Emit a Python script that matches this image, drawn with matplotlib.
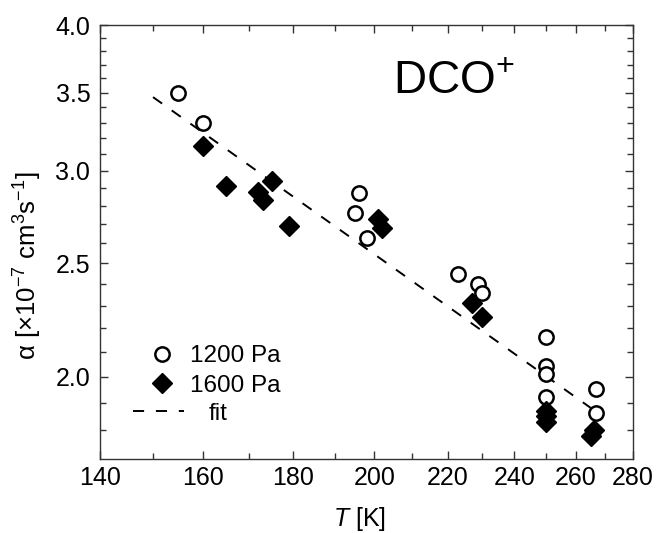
import matplotlib
matplotlib.use("Agg")
from matplotlib import pyplot as plt
from matplotlib.ticker import FixedLocator, NullFormatter, FormatStrFormatter
from matplotlib.lines import Line2D

plt.rcParams['font.family'] = ['Liberation Sans', 'DejaVu Sans']
plt.rcParams['mathtext.fontset'] = 'custom'
plt.rcParams['mathtext.rm'] = 'Liberation Sans'
plt.rcParams['mathtext.it'] = 'Liberation Sans:italic'
plt.rcParams['lines.scale_dashes'] = False

# Dane: 1200 Pa (kolka)
T_1200 = [155, 160, 196, 195, 198, 223, 229, 230, 250, 250, 250, 250, 267, 267]
a_1200 = [3.50, 3.30, 2.87, 2.76, 2.63, 2.45, 2.40, 2.36, 2.16, 2.04, 2.01, 1.92, 1.95, 1.86]

# Dane: 1600 Pa (romby)
T_1600 = [160, 165, 172, 173, 175, 179, 201, 202, 227, 230, 250, 250, 250, 266, 265]
a_1600 = [3.15, 2.91, 2.88, 2.83, 2.94, 2.69, 2.73, 2.68, 2.31, 2.25, 1.87, 1.85, 1.83, 1.80, 1.78]

# Dopasowanie (prosta w skali log-log)
fit_T = [150, 265]
fit_a = [3.47, 1.88]

x_major = [140, 160, 180, 200, 220, 240, 260, 280]
x_minor = [150, 170, 190, 210, 230, 250, 270]
y_major = [2.0, 2.5, 3.0, 3.5, 4.0]
y_minor = [1.8, 1.9, 2.1, 2.2, 2.3, 2.4, 2.6, 2.7, 2.8, 2.9,
           3.1, 3.2, 3.3, 3.4, 3.6, 3.7, 3.8, 3.9]

fig = plt.figure(figsize=(6.56, 5.33), dpi=100)
ax = fig.add_axes([0.1524, 0.139, 0.8126, 0.814])

ax.plot(fit_T, fit_a, c='black', lw=1.4, dashes=(8, 8.5))
ax.plot(T_1200, a_1200, 'o', ms=10.3, mfc='white', mec='black', mew=1.8, ls='none')
ax.plot(T_1600, a_1600, 'D', ms=10.5, mfc='black', mec='black', mew=1.0, ls='none')

ax.set_xscale('log')
ax.set_yscale('log')
ax.set_xlim(140, 280)
ax.set_ylim(1.7, 4.0)

ax.xaxis.set_major_locator(FixedLocator(x_major))
ax.xaxis.set_minor_locator(FixedLocator(x_minor))
ax.xaxis.set_major_formatter(FormatStrFormatter('%d'))
ax.xaxis.set_minor_formatter(NullFormatter())
ax.yaxis.set_major_locator(FixedLocator(y_major))
ax.yaxis.set_minor_locator(FixedLocator(y_minor))
ax.yaxis.set_major_formatter(FormatStrFormatter('%.1f'))
ax.yaxis.set_minor_formatter(NullFormatter())

ax.tick_params(axis='both', which='both', direction='in', top=True, right=True,
               color='#333333', width=1.0)
ax.tick_params(axis='both', which='major', length=6, labelsize=18)
ax.tick_params(axis='both', which='minor', length=4)
ax.tick_params(axis='x', which='major', pad=5)
ax.tick_params(axis='y', which='major', pad=7)
for s in ax.spines.values():
    s.set_color('#333333')
    s.set_linewidth(1.0)

ax.set_xlabel('$T$ [K]', fontsize=18)
ax.set_ylabel('α [×10$^{-7}$ cm$^{3}$s$^{-1}$]', fontsize=18.5)
ax.xaxis.set_label_coords(0.486, -0.106)
ax.yaxis.set_label_coords(-0.105, 0.445)

ax.text(0.55, 0.841, 'DCO$^{+}$', transform=ax.transAxes, fontsize=33, va='baseline')

# Legenda
h1 = Line2D([], [], marker='o', ls='none', ms=10.3, mfc='white', mec='black', mew=1.8)
h2 = Line2D([], [], marker='D', ls='none', ms=10.5, mfc='black', mec='black', mew=1.0)
leg1 = ax.legend([h1, h2], ['1200 Pa', '1600 Pa'], loc='center left',
                 bbox_to_anchor=((151 - 100) / 533, (459 - 371) / 434),
                 frameon=False, fontsize=17.5, handlelength=0.9, handletextpad=0.7,
                 borderpad=0, borderaxespad=0, labelspacing=0.3)
ax.add_artist(leg1)
h3 = Line2D([], [], c='black', lw=1.4, dashes=(8, 8.5))
ax.legend([h3], ['fit'], loc='center left',
          bbox_to_anchor=((133 - 100) / 533, (459 - 414) / 434),
          frameon=False, fontsize=17.5, handlelength=2.1, handletextpad=1.03,
          borderpad=0, borderaxespad=0)

plt.savefig('out.png', dpi=100)
